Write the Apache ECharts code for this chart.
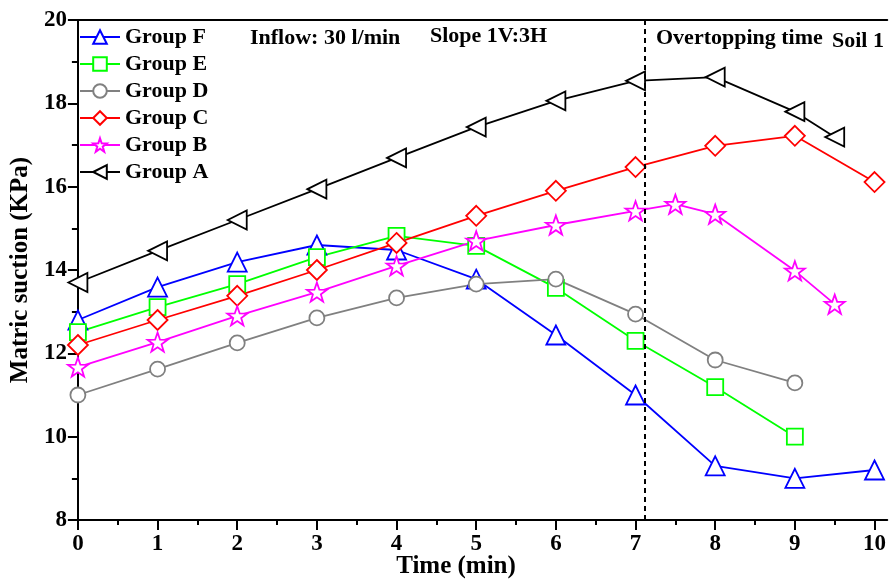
<!DOCTYPE html>
<html>
<head>
<meta charset="utf-8">
<script src="https://cdn.jsdelivr.net/npm/echarts@6/dist/echarts.min.js"></script>
<style>
  html, body { margin: 0; padding: 0; background: #fff; }
  #chart { width: 889px; height: 580px; }
</style>
</head>
<body>
<div id="chart"></div>
<script>
// Matric suction over time for six test groups (Soil 1)
const groupA_t = [0, 1, 2, 3, 4, 5, 6, 7, 8, 9, 9.5];
const groupA_v = [13.7, 14.46, 15.2, 15.94, 16.69, 17.43, 18.06, 18.54, 18.63, 17.8, 17.19];

const groupB_t = [0, 1, 2, 3, 4, 5, 6, 7, 7.5, 8, 9, 9.5];
const groupB_v = [11.67, 12.27, 12.9, 13.47, 14.1, 14.7, 15.08, 15.42, 15.58, 15.34, 13.98, 13.18];

const groupC_t = [0, 1, 2, 3, 4, 5, 6, 7, 8, 9, 10];
const groupC_v = [12.2, 12.8, 13.38, 14.0, 14.65, 15.3, 15.9, 16.47, 16.98, 17.22, 16.11];

const groupD_t = [0, 1, 2, 3, 4, 5, 6, 7, 8, 9];
const groupD_v = [11.0, 11.62, 12.25, 12.85, 13.33, 13.66, 13.78, 12.94, 11.84, 11.29];

const groupE_t = [0, 1, 2, 3, 4, 5, 6, 7, 8, 9];
const groupE_v = [12.51, 13.11, 13.66, 14.31, 14.82, 14.58, 13.57, 12.3, 11.19, 10.0];

const groupF_t = [0, 1, 2, 3, 4, 5, 6, 7, 8, 9, 10];
const groupF_v = [12.8, 13.59, 14.19, 14.6, 14.48, 13.78, 12.44, 11.0, 9.3, 9.0, 9.2];

const overtoppingTime = 7.12;
const yTicks = [8, 10, 12, 14, 16, 18, 20];
const xTicks = [0, 1, 2, 3, 4, 5, 6, 7, 8, 9, 10];

const serif = '"Liberation Serif", "Times New Roman", serif';
const starPath = 'path://M0,-10L2.35,-3.24L9.51,-3.09L3.8,1.24L5.88,8.09L0,4L-5.88,8.09L-3.8,1.24L-9.51,-3.09L-2.35,-3.24Z';

function zip(t, v) { return t.map((x, i) => [x, v[i]]); }

function lineSeries(name, t, v, color, symbol, size, extra) {
  return Object.assign({
    name: name,
    type: 'line',
    data: zip(t, v),
    symbol: symbol,
    symbolSize: size,
    symbolKeepAspect: true,
    showAllSymbol: true,
    clip: false,
    lineStyle: { color: color, width: 1.8 },
    itemStyle: { color: '#fff', borderColor: color, borderWidth: 1.8 },
    emphasis: { disabled: true },
    z: 3
  }, extra || {});
}

function note(text, x, y) {
  return { type: 'text', x: x, y: y,
    style: { text: text, font: 'bold 22px ' + serif, fill: '#000', textVerticalAlign: 'middle' } };
}

const chart = echarts.init(document.getElementById('chart'), null, { renderer: 'canvas' });

const option = {
  animation: false,
  backgroundColor: '#fff',
  grid: { left: 76, right: 0, top: 20, bottom: 60 },
  legend: {
    orient: 'vertical',
    left: 79,
    top: 26,
    padding: 0,
    itemWidth: 40,
    itemHeight: 17,
    itemGap: 5,
    textStyle: { fontFamily: serif, fontWeight: 'bold', fontSize: 22, color: '#000' },
    data: ['Group F', 'Group E', 'Group D', 'Group C', 'Group B', 'Group A']
  },
  xAxis: [{
    type: 'value',
    min: 0,
    max: 10.16,
    interval: 1,
    axisLine: { lineStyle: { color: '#000', width: 2 } },
    axisTick: { inside: false, length: 10, lineStyle: { width: 2, color: '#000' },
      customValues: xTicks },
    minorTick: { show: true, splitNumber: 2, length: 5, lineStyle: { width: 2, color: '#000' } },
    axisLabel: { fontFamily: serif, fontWeight: 'bold', fontSize: 23, color: '#000', margin: 13,
      customValues: xTicks },
    splitLine: { show: false }
  }, {
    type: 'value',
    position: 'top',
    min: 0,
    max: 10.16,
    axisLine: { show: true, lineStyle: { color: '#000', width: 2 } },
    axisTick: { show: false },
    axisLabel: { show: false },
    splitLine: { show: false }
  }],
  yAxis: {
    type: 'value',
    min: 8,
    max: 20,
    interval: 2,
    name: 'Matric suction (KPa)',
    nameLocation: 'middle',
    nameGap: 42,
    nameTextStyle: { fontFamily: serif, fontWeight: 'bold', fontSize: 25, color: '#000' },
    axisLine: { show: true, lineStyle: { color: '#000', width: 2 } },
    axisTick: { show: true, inside: false, length: 10, lineStyle: { width: 2, color: '#000' } },
    minorTick: { show: true, splitNumber: 2, length: 6, lineStyle: { width: 2, color: '#000' } },
    axisLabel: { fontFamily: serif, fontWeight: 'bold', fontSize: 23, color: '#000', margin: 11,
      customValues: yTicks },
    splitLine: { show: false }
  },
  graphic: [
    note('Inflow: 30 l/min', 250, 38),
    note('Slope 1V:3H', 430, 36),
    note('Overtopping time', 656, 38),
    note('Soil 1', 832, 41),
    { type: 'text', x: 456, y: 567,
      style: { text: 'Time (min)', font: 'bold 25px ' + serif, fill: '#000',
        textAlign: 'center', textVerticalAlign: 'middle' } }
  ],
  series: [
    lineSeries('Group F', groupF_t, groupF_v, '#0000ff', 'triangle', 19, {
      markLine: {
        silent: true,
        symbol: 'none',
        label: { show: false },
        lineStyle: { color: '#000', type: [5, 4], width: 2 },
        data: [{ xAxis: overtoppingTime }]
      }
    }),
    lineSeries('Group E', groupE_t, groupE_v, '#00ff00', 'rect', 16),
    lineSeries('Group D', groupD_t, groupD_v, '#808080', 'circle', 15),
    lineSeries('Group C', groupC_t, groupC_v, '#ff0000', 'diamond', 20),
    lineSeries('Group B', groupB_t, groupB_v, '#ff00ff', starPath, 20),
    lineSeries('Group A', groupA_t, groupA_v, '#000000', 'triangle', 19, { symbolRotate: 90 })
  ]
};

chart.setOption(option);
</script>
</body>
</html>
